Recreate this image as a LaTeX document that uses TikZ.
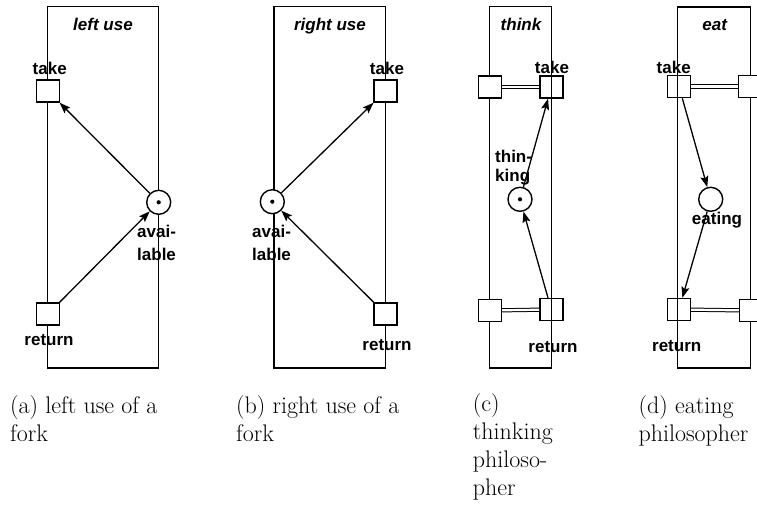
\documentclass[tikz,border=0pt]{standalone}
\usepackage{fontspec}
\newfontfamily\lbf{Liberation Sans}
\usetikzlibrary{arrows.meta}
\begin{document}
\begin{tikzpicture}[x=1pt,y=-1pt,
  frame/.style={draw, line width=1.4pt},
  trw/.style={draw, fill=white, line width=1.4pt, minimum width=23pt, minimum height=22pt, inner sep=0pt},
  tro/.style={draw, line width=1.4pt, minimum width=23pt, minimum height=22pt, inner sep=0pt},
  plc/.style={circle, draw, fill=white, line width=1.4pt, minimum size=24pt, inner sep=0pt},
  tok/.style={circle, fill=black, minimum size=4.2pt, inner sep=0pt},
  lbl/.style={font=\fontsize{17}{23}\selectfont\lbf\bfseries, inner sep=0pt, anchor=base},
  lbll/.style={font=\fontsize{17}{23}\selectfont\lbf\bfseries, inner sep=0pt, anchor=north west, align=left},
  lbln/.style={font=\fontsize{17}{19}\selectfont\lbf\bfseries, inner sep=0pt, anchor=north west, align=left},
  ttl/.style={font=\fontsize{17}{23}\selectfont\lbf\bfseries\itshape, inner sep=0pt, anchor=base},
  arc/.style={-{Stealth[length=11pt,width=8pt,inset=2pt]}, line width=1.3pt},
  dbl/.style={double, line width=1pt, double distance=2.2pt},
  capt/.style={font=\fontsize{24}{28}\selectfont, align=left, anchor=north west, inner sep=0pt}]
\useasboundingbox (0,0) rectangle (757,506);

% ---------- (a) left use ----------
\draw[frame] (47.7,6.7) rectangle (158.3,368);
\node[ttl] (a-ttl) at (103,30) {left use};
\node[trw] (a-take) at (48,91) {};
\node[trw] (a-ret) at (48,314) {};
\node[plc] (a-av) at (158.7,202.3) {};
\node[tok] (a-tok) at (a-av) {};
\node[lbl] (a-takel) at (49.7,74) {take};
\node[lbl] (a-retl) at (49,345) {return};
\node[lbll] (a-avl) at (137,224.5) {avai-\\lable};
\draw[arc] (a-av) -- (a-take);
\draw[arc] (a-ret) -- (a-av);

% ---------- (b) right use ----------
\draw[frame] (274,6.7) rectangle (385.7,368);
\node[ttl] (b-ttl) at (330,30) {right use};
\node[trw] (b-take) at (385.5,91) {};
\node[trw] (b-ret) at (385.5,314) {};
\node[plc] (b-av) at (272.3,201.7) {};
\node[tok] (b-tok) at (b-av) {};
\node[lbl] (b-takel) at (387,74) {take};
\node[lbl] (b-retl) at (387,350) {return};
\node[lbll] (b-avl) at (252,224.5) {avai-\\lable};
\draw[arc] (b-av) -- (b-take);
\draw[arc] (b-ret) -- (b-av);

% ---------- (c) think ----------
\draw[frame] (489.3,6.7) rectangle (551.7,368);
\node[ttl] (c-ttl) at (521,30) {think};
\node[trw] (c-l1) at (490,87) {};
\node[tro] (c-take) at (551.3,87) {};
\node[trw] (c-l2) at (490,310.5) {};
\node[tro] (c-ret) at (551.3,309.5) {};
\node[plc] (c-th) at (520,199.3) {};
\node[tok] (c-tok) at (c-th) {};
\node[lbl] (c-takel) at (552,73) {take};
\node[lbl] (c-retl) at (553,352) {return};
\node[lbln] (c-thl) at (495,149.5) {thin-\\king};
\draw[dbl] (c-l1) -- (c-take);
\draw[dbl] (c-l2) -- (c-ret);
\draw[arc] (c-th) -- (c-take);
\draw[arc] (c-ret) -- (c-th);

% ---------- (d) eat ----------
\draw[frame] (677.7,7) rectangle (750.3,368);
\node[ttl] (d-ttl) at (714.7,30) {eat};
\node[tro] (d-take) at (679,86.5) {};
\node[trw] (d-r1) at (750,86.5) {};
\node[tro] (d-ret) at (679,309.5) {};
\node[trw] (d-r2) at (751,310.5) {};
\node[plc] (d-eat) at (710.7,199.3) {};
\node[lbl] (d-takel) at (673.7,73.3) {take};
\node[lbl] (d-retl) at (676.7,351.5) {return};
\node[lbl] (d-eatl) at (717,224.5) {eating};
\draw[dbl] (d-take) -- (d-r1);
\draw[dbl] (d-ret) -- (d-r2);
\draw[arc] (d-take) -- (d-eat);
\draw[arc] (d-eat) -- (d-ret);

% ---------- captions ----------
\node[capt] (cap-a) at (10,395) {(a) left use of a\\fork};
\node[capt] (cap-b) at (236,395) {(b) right use of a\\fork};
\node[capt] (cap-c) at (472.7,393) {(c)\\thinking\\philoso-\\pher};
\node[capt] (cap-d) at (638.3,395) {(d) eating\\philosopher};
\end{tikzpicture}
\end{document}
